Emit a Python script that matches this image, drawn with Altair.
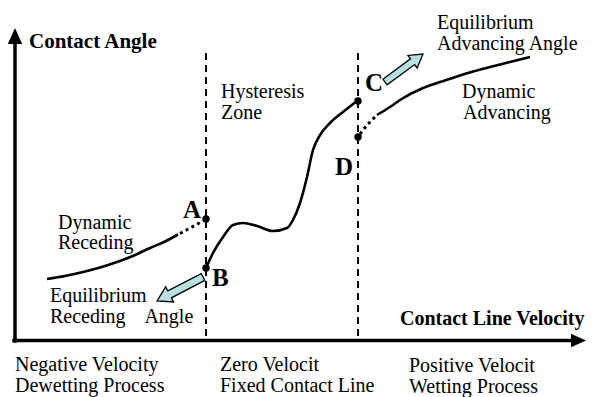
import math
import altair as alt
import pandas as pd

# ---------------- data (diagram units; vertical axis measured downward) ----------------
# dynamic receding branch (solid part and dotted continuation towards A)
rec_x = [47, 65, 83, 100, 117, 134, 150, 165, 178]
rec_y = [279, 276, 272, 267.5, 262, 255.5, 248, 241.5, 234.5]
rec_dot_x = [180, 191, 203]
rec_dot_y = [233.5, 227.5, 221]

# hysteresis-zone curve from B to C
hys_x = [206, 213, 223, 233, 243, 257, 273, 287, 293, 300, 307, 313, 320, 330, 343, 357]
hys_y = [268, 253, 237, 225, 223, 226, 231, 228, 220, 203, 177, 150, 135, 123, 112, 101]

# dynamic advancing branch (dotted start from D, then solid)
adv_dot_x = [360, 367, 375]
adv_dot_y = [134, 125, 117]
adv_x = [377, 390, 400, 423, 440, 457, 473, 490, 510, 530]
adv_y = [115, 107, 100, 88, 82, 76.5, 71.5, 67, 62, 57]

# zone boundaries (dashed verticals)
zone_x = [206, 358]
zone_top = 53
zone_bottom = 340

# key points
pt_names = ["A", "B", "C", "D"]
pt_x = [206, 206, 358, 358]
pt_y = [219, 268, 101, 137]
pt_lab_x = [201, 212, 365, 335]
pt_lab_y = [218, 286, 91, 175]
pt_lab_align = ["right", "left", "left", "left"]

# axes
axis_x0 = [15, 14]
axis_y0 = [341, 340.5]
axis_x1 = [15, 572]
axis_y1 = [44, 340.5]
head_tip_x = [15, 586]
head_tip_y = [28, 340.5]
head_base_x = [15, 571]
head_base_y = [44, 340.5]

# equilibrium block arrows
barrow_tail_x = [385, 203]
barrow_tail_y = [82, 277]
barrow_tip_x = [423, 157]
barrow_tip_y = [54, 301]

# texts
reg_text = ["Hysteresis", "Zone", "Equilibrium", "Advancing Angle", "Dynamic", "Advancing",
            "Dynamic", "Receding", "Equilibrium", "Receding\u00a0\u00a0\u00a0 Angle",
            "Negative Velocity", "Dewetting Process", "Zero Velocit", "Fixed Contact Line",
            "Positive Velocit", "Wetting Process"]
reg_x = [221, 221, 437, 437, 462, 463, 58, 58, 50, 50, 15, 15, 220, 220, 409, 409]
reg_y = [98, 119, 29, 50, 98, 119, 229, 249, 302, 323, 371, 392, 371, 392, 372, 393]

bold_text = ["Contact Angle", "Contact Line Velocity"]
bold_x = [29, 400]
bold_y = [48, 325]
bold_size = [21, 20]

# ---------------- build tables ----------------
def series(name, xs_, ys_):
    return pd.DataFrame({"x": xs_, "y": ys_, "series": name})

solid_df = pd.concat([series("rec", rec_x, rec_y), series("hys", hys_x, hys_y),
                      series("adv", adv_x, adv_y)])
dot_df = pd.concat([series("rec", rec_dot_x, rec_dot_y), series("adv", adv_dot_x, adv_dot_y)])
zone_df = pd.DataFrame({"x": zone_x, "y": zone_top, "y2": zone_bottom})
pts_df = pd.DataFrame({"name": pt_names, "x": pt_x, "y": pt_y})
labs_df = pd.DataFrame({"name": pt_names, "x": pt_lab_x, "y": pt_lab_y, "align": pt_lab_align})
axis_df = pd.DataFrame({"x": axis_x0, "y": axis_y0, "x2": axis_x1, "y2": axis_y1})


def arrow_table(tx, ty, hx, hy):
    rows = []
    for a, b, c, d in zip(tx, ty, hx, hy):
        dx, dy = c - a, d - b
        ln = math.hypot(dx, dy)
        ang = math.degrees(math.atan2(dy, dx)) % 360
        rows.append({"x": (a + c) / 2, "y": (b + d) / 2, "angle": ang, "size": ln * ln})
    return pd.DataFrame(rows)

heads_df = arrow_table(head_base_x, head_base_y, head_tip_x, head_tip_y)
barrow_df = arrow_table(barrow_tail_x, barrow_tail_y, barrow_tip_x, barrow_tip_y)
reg_df = pd.DataFrame({"t": reg_text, "x": reg_x, "y": reg_y})
bold_df = pd.DataFrame({"t": bold_text, "x": bold_x, "y": bold_y, "s": bold_size})

# ---------------- scales ----------------
W, H = 578, 389
xs = alt.Scale(domain=[8, 8 + W], nice=False, zero=False)
ys = alt.Scale(domain=[8, 8 + H], nice=False, zero=False, reverse=True)
X = lambda f: alt.X(f"{f}:Q", scale=xs, axis=None)
Y = lambda f: alt.Y(f"{f}:Q", scale=ys, axis=None)

FONT = "Liberation Serif"

axes = alt.Chart(axis_df).mark_rule(color="black", strokeWidth=3.5, strokeCap="square").encode(
    x=X("x"), y=Y("y"), x2="x2", y2="y2")

tri = "M 1 0 L -1 -0.9 L -1 0.9 Z"
heads = alt.Chart(heads_df).mark_point(shape=tri, filled=True, color="black", opacity=1).encode(
    x=X("x"), y=Y("y"), angle=alt.Angle("angle:Q", scale=None), size=alt.Size("size:Q", scale=None))

zones = alt.Chart(zone_df).mark_rule(color="black", strokeWidth=2, strokeDash=[7, 5]).encode(
    x=X("x"), y=Y("y"), y2="y2")

solid = alt.Chart(solid_df).mark_line(color="black", strokeWidth=2.6, interpolate="monotone").encode(
    x=X("x"), y=Y("y"), detail="series:N")

dotted = alt.Chart(dot_df).mark_line(color="black", strokeWidth=3, strokeDash=[3, 3.5]).encode(
    x=X("x"), y=Y("y"), detail="series:N")

dots = alt.Chart(pts_df).mark_circle(color="black", size=55, opacity=1).encode(x=X("x"), y=Y("y"))

block = "M -1 -0.15 L 0.45 -0.15 L 0.45 -0.33 L 1 0 L 0.45 0.33 L 0.45 0.15 L -1 0.15 Z"
barrows = alt.Chart(barrow_df).mark_point(shape=block, filled=True, fill="#b8dfe2", stroke="black",
                                           strokeWidth=1.3, opacity=1).encode(
    x=X("x"), y=Y("y"), angle=alt.Angle("angle:Q", scale=None), size=alt.Size("size:Q", scale=None))

lab_left = alt.Chart(labs_df[labs_df["align"] == "left"]).mark_text(
    font=FONT, fontSize=25, fontWeight="bold", align="left", baseline="alphabetic", color="black").encode(
    x=X("x"), y=Y("y"), text="name:N")
lab_right = alt.Chart(labs_df[labs_df["align"] == "right"]).mark_text(
    font=FONT, fontSize=25, fontWeight="bold", align="right", baseline="alphabetic", color="black").encode(
    x=X("x"), y=Y("y"), text="name:N")

reg = alt.Chart(reg_df).mark_text(font=FONT, fontSize=20, align="left", baseline="alphabetic",
                                  color="black").encode(x=X("x"), y=Y("y"), text="t:N")
bold = alt.Chart(bold_df).mark_text(font=FONT, fontWeight="bold", align="left",
                                    baseline="alphabetic", color="black").encode(
    x=X("x"), y=Y("y"), text="t:N", size=alt.Size("s:Q", scale=None))

chart = alt.layer(zones, axes, heads, solid, dotted, dots, barrows, lab_left, lab_right, reg, bold).properties(
    width=W, height=H, padding=0, autosize=alt.AutoSizeParams(type="none"), background="white"
).configure_view(stroke=None)

chart.save("out.html", embed_options={"renderer": "svg", "actions": False})
